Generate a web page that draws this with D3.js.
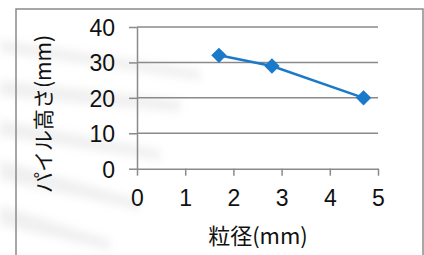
<!DOCTYPE html>
<html>
<head>
<meta charset="utf-8">
<script src="https://cdn.jsdelivr.net/npm/d3@7"></script>
<style>
  body { margin: 0; background: #fff; }
  svg { display: block; }
</style>
</head>
<body>
<svg id="chart" width="424" height="255"></svg>
<script>
const grainSize = [1.7, 2.8, 4.7];
const pileHeight = [32, 29, 20];
const xTicks = [0, 1, 2, 3, 4, 5];
const yTicks = [0, 10, 20, 30, 40];
const xTitle = '粒径(mm)';
const yTitle = 'パイル高さ(mm)';

const w = 424;
const h = 255;
const blue = '#1b79c9';
const grey = '#8a8a8a';

const svg = d3.select('#chart');

// faint scanned streaks in background
const defs = svg.append('defs');
defs.append('filter').attr('id', 'blur')
  .append('feGaussianBlur').attr('stdDeviation', 4);
const streaks = [
  [[0, 40], [200, 70], [200, 80], [0, 52]],
  [[0, 80], [180, 100], [180, 112], [0, 96]],
  [[0, 120], [160, 150], [160, 160], [0, 136]],
  [[0, 160], [140, 200], [140, 210], [0, 180]],
  [[0, 205], [110, 240], [110, 250], [0, 225]]
];
svg.append('g')
  .attr('filter', 'url(#blur)')
  .selectAll('polygon')
  .data(streaks)
  .enter()
  .append('polygon')
  .attr('points', d => d.map(p => p.join(',')).join(' '))
  .attr('fill', '#000')
  .attr('opacity', 0.06);

// outer frame
svg.append('path')
  .attr('d', `M16,${h + 2}V9H423V${h + 2}`)
  .attr('fill', 'none')
  .attr('stroke', grey)
  .attr('stroke-width', 1.5);

const x = d3.scaleLinear().domain([0, 5]).range([137, 378]);
const y = d3.scaleLinear().domain([0, 40]).range([168.7, 27]);

// gridlines
svg.append('g')
  .selectAll('line')
  .data(yTicks.filter(v => v > 0))
  .enter()
  .append('line')
  .attr('x1', x(0))
  .attr('x2', x(5))
  .attr('y1', d => y(d))
  .attr('y2', d => y(d))
  .attr('stroke', grey)
  .attr('stroke-width', 1.5);

const yAxis = d3.axisLeft(y)
  .tickValues(yTicks)
  .tickFormat(d3.format('d'))
  .tickSizeInner(8)
  .tickSizeOuter(0)
  .tickPadding(14);

const gy = svg.append('g')
  .attr('transform', `translate(${x(0)},0)`)
  .call(yAxis);

const xAxis = d3.axisBottom(x)
  .tickValues(xTicks)
  .tickFormat(d3.format('d'))
  .tickSizeInner(7)
  .tickSizeOuter(0)
  .tickPadding(14);

const gx = svg.append('g')
  .attr('transform', `translate(0,${y(0)})`)
  .call(xAxis);

[gx, gy].forEach(g => {
  g.selectAll('path, line').attr('stroke', grey).attr('stroke-width', 1.5);
  g.selectAll('text')
    .attr('fill', '#111')
    .style('font-family', '"Liberation Sans", Arial, sans-serif')
    .style('font-size', '23px');
});
gy.selectAll('text').attr('dy', '0.37em');
gx.selectAll('text').attr('dy', '0.72em');

// series line
const line = d3.line()
  .x((d, i) => x(grainSize[i]))
  .y(d => y(d));

svg.append('path')
  .datum(pileHeight)
  .attr('d', line)
  .attr('fill', 'none')
  .attr('stroke', blue)
  .attr('stroke-width', 2.5);

const diamond = d3.symbol().type(d3.symbolDiamond2).size(150);
svg.append('g')
  .selectAll('path')
  .data(pileHeight)
  .enter()
  .append('path')
  .attr('d', diamond)
  .attr('transform', (d, i) => `translate(${x(grainSize[i])},${y(d)})`)
  .attr('fill', blue);

// axis titles
svg.append('text')
  .attr('x', 258)
  .attr('y', 244)
  .attr('text-anchor', 'middle')
  .attr('fill', '#111')
  .style('font-family', '"Noto Sans CJK JP", sans-serif')
  .style('font-size', '22px')
  .text(xTitle);

svg.append('text')
  .attr('transform', 'translate(42,114) rotate(-90)')
  .attr('text-anchor', 'middle')
  .attr('dominant-baseline', 'central')
  .attr('fill', '#111')
  .style('font-family', '"Noto Sans CJK JP", sans-serif')
  .style('font-size', '21px')
  .text(yTitle);
</script>
</body>
</html>
